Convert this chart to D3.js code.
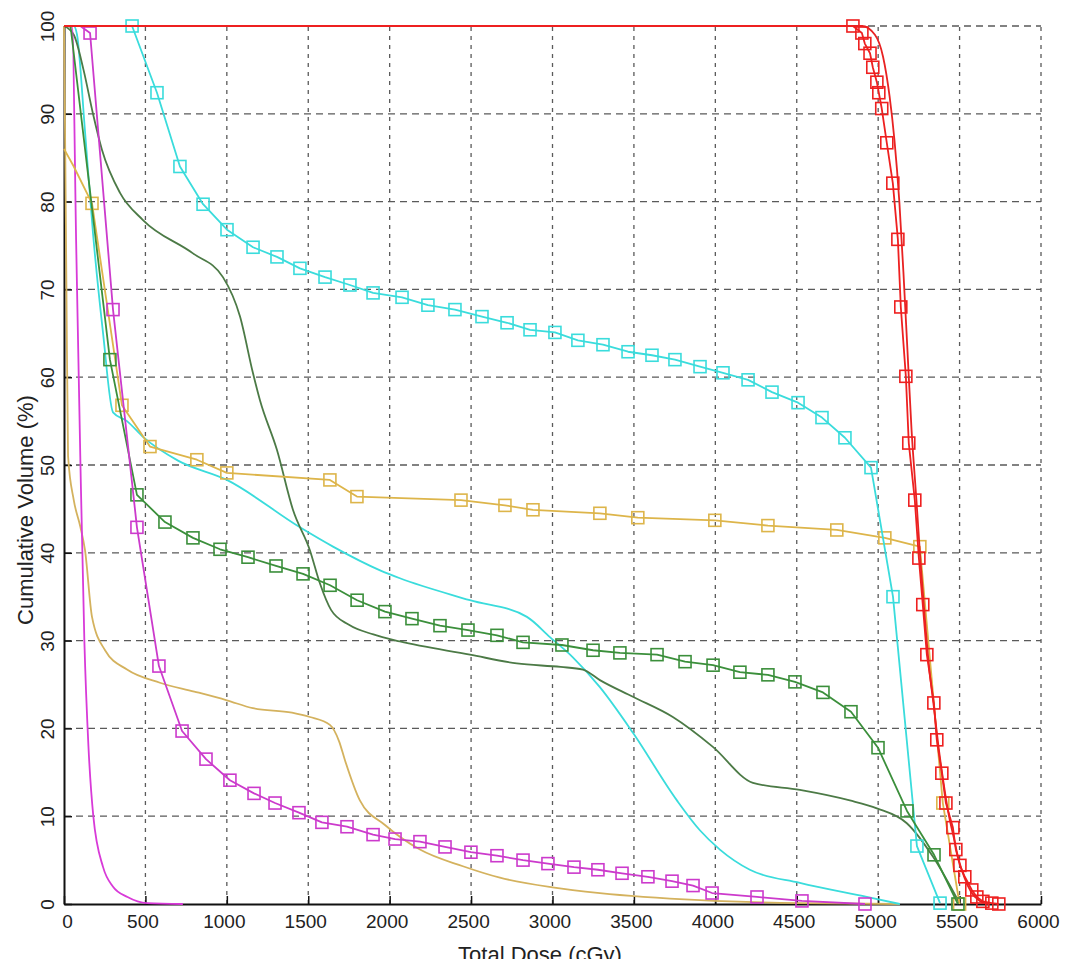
<!DOCTYPE html>
<html>
<head>
<meta charset="utf-8">
<script src="https://cdn.jsdelivr.net/npm/d3@7"></script>
<style>
  body { margin: 0; background: #fff; }
  svg text { font-family: "Liberation Sans", Arial, sans-serif; fill: #222; }
</style>
</head>
<body>
<svg id="chart" width="1065" height="959"></svg>
<script>
// Achsen-Ticks
const xTicks = [0, 500, 1000, 1500, 2000, 2500, 3000, 3500, 4000, 4500, 5000, 5500, 6000];
const yTicks = [0, 10, 20, 30, 40, 50, 60, 70, 80, 90, 100];

// Daten: [Dosis (cGy), Volumen (%)]
const yellowLine = [[0,100],[8,85],[15,70],[25,51],[60,46],[100,43],[129,40.3],[172,32.7],[252,28.9],[387,26.7],[589,25.2],[800,24.2],[1000,23.2],[1160,22.3],[1400,21.8],[1510,21.3],[1633,20.4],[1690,18.5],[1725,16.4],[1817,11.8],[1971,9.0],[2186,6.2],[2450,4.3],[2677,3.0],[3000,1.9],[3291,1.25],[3905,0.45],[4519,0.1],[5133,0]];
const yellowHead = [[0,86],[60,84]];
const yellowMarked = [[172,79.8],[356,56.8],[528,52.1],[816,50.6],[1000,49.1],[1633,48.3],[1799,46.4],[2438,46.0],[2708,45.4],[2880,44.9],[3291,44.5],[3524,44.0],[3997,43.7],[4323,43.1],[4746,42.6],[5041,41.7],[5256,40.7],[5397,11.5],[5500,0]];

const cyanLine = [[0,100],[60,100],[80,99],[129,88],[178,76.4],[240,65],[301,56],[387,55],[485,53.2],[700,50.5],[1000,48.3],[1449,42.9],[1652,40.7],[1941,38.0],[2063,37.1],[2493,34.6],[2843,32.7],[2984,30.4],[3125,28.1],[3291,24.7],[3494,19.5],[3764,11.8],[3905,8.4],[4028,6.2],[4212,3.9],[4519,2.4],[4930,0.8],[5133,0]];
const cyanMarked = [[418,100],[571,92.4],[712,84.0],[854,79.7],[1001,76.8],[1161,74.8],[1308,73.7],[1449,72.4],[1603,71.4],[1756,70.5],[1898,69.6],[2076,69.1],[2235,68.2],[2401,67.7],[2567,66.9],[2721,66.2],[2862,65.4],[3015,65.1],[3156,64.2],[3310,63.7],[3464,62.9],[3611,62.5],[3752,62.0],[3906,61.2],[4047,60.5],[4201,59.7],[4348,58.3],[4508,57.1],[4655,55.4],[4796,53.1],[4956,49.7],[5091,35.0],[5238,6.6],[5380,0.1]];

const greenLine = [[0,100],[60,99],[120,95],[178,90],[233,85.9],[344,81],[485,77.9],[792,74.1],[976,71.4],[1081,66.9],[1160,60.5],[1203,57.4],[1308,51.7],[1406,44.9],[1510,40.3],[1572,36.5],[1640,33.5],[1750,31.8],[1900,30.7],[2063,29.9],[2493,28.4],[2781,27.4],[3050,27.0],[3187,26.7],[3291,25.5],[3494,23.6],[3739,21.3],[3985,17.9],[4231,13.8],[4519,13.0],[4826,11.8],[4992,10.9],[5176,9.2],[5336,5.4],[5502,0]];
const greenHead = [[0,100],[40,100]];
const greenMarked = [[282,62.0],[448,46.6],[620,43.5],[792,41.7],[958,40.4],[1130,39.5],[1302,38.5],[1468,37.6],[1634,36.3],[1800,34.6],[1971,33.3],[2137,32.5],[2309,31.7],[2481,31.2],[2659,30.6],[2819,29.8],[3058,29.5],[3249,28.9],[3414,28.6],[3642,28.4],[3814,27.6],[3986,27.2],[4151,26.4],[4323,26.1],[4489,25.3],[4661,24.1],[4833,21.9],[4999,17.8],[5177,10.6],[5343,5.6],[5490,0]];

const magentaLine = [[0,100],[50,100],[75,75],[100,51],[125,30],[150,18],[180,10],[240,4.2],[300,2],[390,0.8],[510,0.1],[730,0]];
const magentaHead = [[0,100],[100,100]];
const magentaMarked = [[160,99.2],[301,67.7],[448,42.9],[583,27.1],[725,19.7],[872,16.5],[1019,14.1],[1167,12.6],[1296,11.5],[1443,10.4],[1584,9.3],[1738,8.8],[1898,7.9],[2033,7.4],[2186,7.1],[2340,6.5],[2499,5.9],[2659,5.5],[2819,5.0],[2972,4.6],[3132,4.2],[3279,3.9],[3427,3.5],[3586,3.1],[3734,2.6],[3863,2.1],[3980,1.25],[4256,0.8],[4532,0.35],[4919,0]];

const redLine = [[0,100],[4900,100],[4980,99],[5030,96.5],[5070,92],[5100,87],[5130,80],[5155,72],[5180,63],[5205,54],[5235,46],[5260,39],[5285,33],[5310,27.5],[5345,22],[5370,18],[5400,14],[5430,10.5],[5465,7.5],[5495,5],[5530,3],[5570,1.4],[5620,0.4],[5680,0]];
const redHead = [[0,100]];
const redMarked = [[4845,100],[4900,99.2],[4918,98],[4950,96.9],[4967,95.3],[4992,93.6],[5004,92.4],[5022,90.6],[5053,86.7],[5090,82.1],[5121,75.7],[5139,68.0],[5170,60.1],[5188,52.5],[5225,46.0],[5250,39.4],[5274,34.1],[5299,28.4],[5342,22.9],[5360,18.7],[5391,14.9],[5416,11.5],[5459,8.7],[5477,6.2],[5502,4.4],[5532,3.1],[5575,1.6],[5606,0.8],[5643,0.3],[5698,0.1],[5741,0]];

// Reihenfolge = Zeichenreihenfolge
const series = [
  { pts: yellowLine, color: "#d4b25e", marker: false },
  { pts: cyanLine, color: "#3adcdc", marker: false },
  { pts: greenLine, color: "#4c7a46", marker: false },
  { pts: magentaLine, color: "#d83ad8", marker: false },
  { head: yellowHead, pts: yellowMarked, color: "#ddb54a", marker: true },
  { pts: cyanMarked, color: "#3adcdc", marker: true },
  { head: greenHead, pts: greenMarked, color: "#3b8f3b", marker: true },
  { head: magentaHead, pts: magentaMarked, color: "#cc3acc", marker: true },
  { pts: redLine, color: "#e82222", marker: false },
  { head: redHead, pts: redMarked, color: "#ee2020", marker: true }
];

const svg = d3.select("#chart");

// Skalen
const x = d3.scaleLinear().domain([0, 6000]).range([64, 1041]);
const y = d3.scaleLinear().domain([0, 100]).range([904, 26]);

// Gitter
const grid = svg.append("g").attr("class", "grid")
  .attr("stroke", "#5a5a5a").attr("stroke-width", 1.3);
grid.selectAll("line.v")
  .data(xTicks.filter(d => d > 0))
  .enter().append("line")
  .attr("class", "v")
  .attr("x1", d => x(d)).attr("x2", d => x(d))
  .attr("y1", y(0)).attr("y2", y(100))
  .attr("stroke-dasharray", "4,5");
grid.selectAll("line.h")
  .data(yTicks.filter(d => d > 0))
  .enter().append("line")
  .attr("class", "h")
  .attr("x1", x(0)).attr("x2", x(6000))
  .attr("y1", d => y(d)).attr("y2", d => y(d))
  .attr("stroke-dasharray", "7,5");

// x-Achse
const xAxis = svg.append("g")
  .attr("transform", `translate(0,${y(0)})`)
  .call(d3.axisBottom(x).tickValues(xTicks).tickFormat(d => String(d))
    .tickSizeInner(-8).tickSizeOuter(0).tickPadding(11));
xAxis.select(".domain").attr("stroke", "#111").attr("stroke-width", 2);
xAxis.selectAll(".tick line").attr("stroke", "#111").attr("stroke-width", 1.5);
xAxis.selectAll(".tick text")
  .attr("font-size", 19).attr("dx", d => d === 0 ? 3 : -3).style("fill", "#222");

// y-Achse, Beschriftung gedreht
const yAxis = svg.append("g")
  .attr("transform", `translate(${x(0)},0)`)
  .call(d3.axisLeft(y).tickValues(yTicks).tickFormat(d => String(d))
    .tickSizeInner(-8).tickSizeOuter(0));
yAxis.select(".domain").attr("stroke", "#111").attr("stroke-width", 2);
yAxis.selectAll(".tick line").attr("stroke", "#111").attr("stroke-width", 1.5);
yAxis.selectAll(".tick text")
  .attr("x", null).attr("dy", null)
  .attr("text-anchor", "middle")
  .attr("transform", "translate(-10,0) rotate(-90)")
  .attr("font-size", 19).style("fill", "#222");

// Kurven: glatte Linien ohne Marker, gerade Segmente mit Marker
const smoothLine = d3.line().x(d => x(d[0])).y(d => y(d[1])).curve(d3.curveMonotoneX);
const line = d3.line().x(d => x(d[0])).y(d => y(d[1]));
const curves = svg.append("g").attr("fill", "none");
series.forEach(function(s) {
  const gen = s.marker ? line : smoothLine;
  curves.append("path")
    .attr("d", gen((s.head || []).concat(s.pts)))
    .attr("stroke", s.color)
    .attr("stroke-width", 1.8)
    .attr("stroke-linejoin", "round");
  if (s.marker) {
    curves.selectAll(null)
      .data(s.pts)
      .enter().append("rect")
      .attr("x", d => x(d[0]) - 6)
      .attr("y", d => y(d[1]) - 6)
      .attr("width", 12).attr("height", 12)
      .attr("stroke", s.color)
      .attr("stroke-width", 1.6);
  }
});

// Achsentitel (unten im Original abgeschnitten)
svg.append("text")
  .attr("transform", "translate(33,510) rotate(-90)")
  .attr("text-anchor", "middle")
  .attr("font-size", 22)
  .text("Cumulative Volume (%)");
svg.append("text")
  .attr("x", 540).attr("y", 962)
  .attr("text-anchor", "middle")
  .attr("font-size", 22)
  .text("Total Dose (cGy)");
</script>
</body>
</html>
